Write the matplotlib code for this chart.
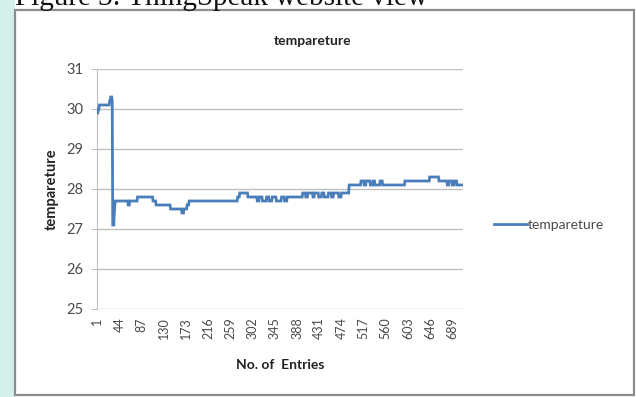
import numpy as np
import matplotlib
matplotlib.use("Agg")
import matplotlib.pyplot as plt
from matplotlib.patches import Rectangle

# readings, stored as runs of (value, how many entries in a row)
temp_values = [29.9, 30.0, 30.1, 30.2, 30.3, 30.2,
               27.1, 27.4, 27.6,
               27.7, 27.6, 27.7, 27.8, 27.7, 27.6, 27.5, 27.4, 27.5, 27.6,
               27.7, 27.8, 27.9, 27.8,
               27.7, 27.8, 27.7, 27.8, 27.7, 27.8, 27.7, 27.8, 27.7, 27.8,
               27.8,
               27.9, 27.8, 27.9, 27.8, 27.9, 27.8, 27.9, 27.8, 27.9, 27.8, 27.9, 27.8, 27.9,
               28.1,
               28.2, 28.1, 28.2, 28.1, 28.2, 28.1, 28.2,
               28.1, 28.2, 28.3, 28.2,
               28.1, 28.2, 28.1, 28.2,
               28.1]
run_lengths = [2, 2, 20, 2, 3, 1,
               3, 1, 1,
               25, 3, 15, 30, 6, 28, 22, 4, 6, 4,
               94, 4, 16, 18,
               4, 6, 8, 5, 6, 8, 10, 6, 5, 4,
               26,
               6, 4, 10, 3, 8, 6, 5, 8, 6, 4, 10, 5, 15,
               23,
               6, 4, 8, 5, 4, 10, 5,
               43, 48, 18, 16,
               4, 6, 4, 5,
               12]

temperature = np.repeat(temp_values, run_lengths)
entries = np.arange(1, len(temperature) + 1)
tick_entries = list(range(1, len(temperature) + 1, 43))
y_ticks = [25, 26, 27, 28, 29, 30, 31]

line_col = '#4a7ebb'
grid_col = '#c0c0c0'
txt_col = '#4a4a4a'
font = ['Lato', 'DejaVu Sans']

fig = plt.figure(figsize=(6.36, 3.97), dpi=100)
fig.patch.set_facecolor('white')

# page background on the left and the chart frame
fig.patches.append(Rectangle((0, 0), 15/636, 1, transform=fig.transFigure,
                             facecolor='#d6f1ec', edgecolor='none', zorder=-2))
fig.patches.append(Rectangle((15/636, 0.005), 619/636, 1 - 10/397 - 0.005,
                             transform=fig.transFigure, facecolor='white',
                             edgecolor='#8c8c8c', linewidth=1.6, zorder=-1))
fig.text(15/636, 1.005, 'Figure 3: ThingSpeak website view', family='Liberation Serif',
         fontsize=21, va='center', ha='left', color='#111111')

ax = fig.add_axes([97/636, 1 - 309/397, 366/636, 240/397])
ax.set_zorder(2)
ax.set_facecolor('white')
ax.plot(entries, temperature, color=line_col, linewidth=2.0, label='tempareture',
        solid_joinstyle='miter', zorder=3)

ax.set_xlim(0.5, len(temperature) + 0.5)
ax.set_ylim(25, 31)
ax.set_yticks(y_ticks)
ax.set_xticks(tick_entries)
ax.set_xticklabels([str(t) for t in tick_entries], rotation=90, fontsize=9,
                   color=txt_col, family=font)
ax.set_yticklabels([str(t) for t in y_ticks], fontsize=10.5, color=txt_col, family=font)
ax.yaxis.grid(True, color=grid_col, linewidth=1.0)
ax.set_axisbelow(True)
for s in ['top', 'right', 'bottom']:
    ax.spines[s].set_visible(False)
ax.spines['left'].set_color(grid_col)
ax.tick_params(axis='y', length=4, color=grid_col, pad=6)
ax.tick_params(axis='x', length=0, pad=6)

ax.set_title('tempareture', fontsize=10, fontweight='bold', color='#222222',
             family=font, pad=17, x=0.59)
ax.set_ylabel('tempareture', fontsize=10.5, fontweight='bold', color='#222222',
              family=font, labelpad=5)
ax.set_xlabel('No. of  Entries', fontsize=10, fontweight='bold', color='#222222',
              family=font, labelpad=14)

leg = ax.legend(loc='center left', bbox_to_anchor=(1.05, 0.35), frameon=False,
                handlelength=2.4, handletextpad=0.05,
                prop={'family': font, 'size': 10})
for t in leg.get_texts():
    t.set_color(txt_col)

fig.savefig('out.png', dpi=100)
